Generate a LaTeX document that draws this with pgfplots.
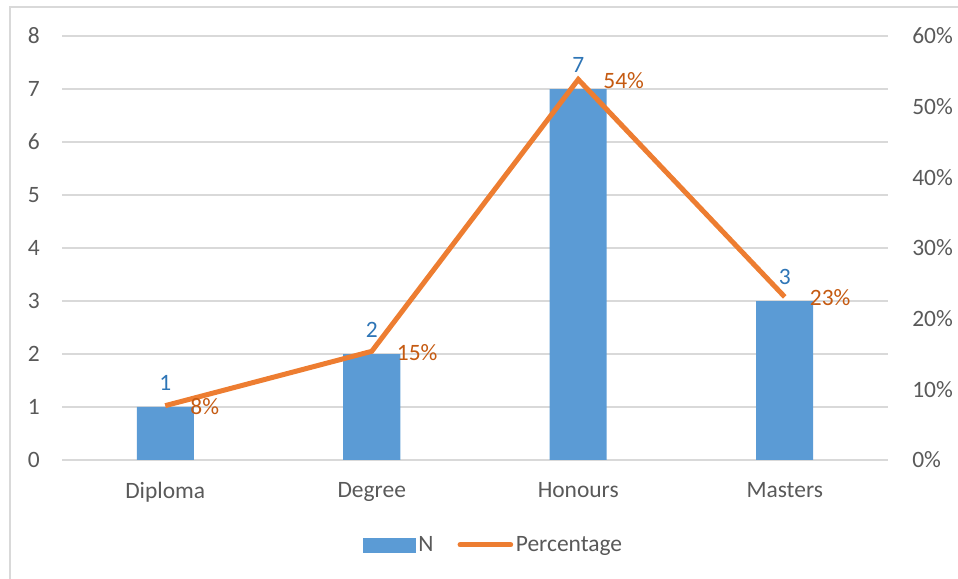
\documentclass[border=0pt]{standalone}
\usepackage{pgfplots}
\pgfplotsset{compat=1.18}
\usepackage{fontspec}
\setmainfont{Carlito}
\definecolor{barblue}{HTML}{5B9BD5}
\definecolor{lineorange}{HTML}{ED7D31}
\definecolor{txt}{HTML}{595959}
\definecolor{gridc}{HTML}{D9D9D9}
\definecolor{lblblue}{HTML}{2E75B6}
\definecolor{lblorange}{HTML}{C55A11}
\begin{document}
\begin{tikzpicture}
\path[use as bounding box] (0,0) rectangle (718.5pt,434.25pt);
\draw[gridc, line width=0.9pt] (7.5pt,0) -- (7.5pt,429pt) -- (718.5pt,429pt);
\pgfplotsset{common/.style={scale only axis, width=619.5pt, height=318pt,
  at={(46.5pt,89.25pt)}, anchor=south west, xmin=-0.5, xmax=3.5,
  axis line style={draw=none}, tick style={draw=none},
  font=\fontsize{17.6}{20}\selectfont, tick label style={text=txt},
  /pgf/number format/assume math mode=true}}
\begin{axis}[common, ymin=0, ymax=8, ytick={0,...,8},
  ymajorgrids, grid style={gridc, line width=0.9pt},
  xtick={0,1,2,3}, xticklabels={Diploma,Degree,Honours,Masters},
  yticklabel style={inner sep=0pt, anchor=east, xshift=-16.5pt},
  xticklabel style={inner sep=0pt, anchor=north, yshift=-16.5pt},
  axis y line*=left]
\addplot[ybar, bar width=42.75pt, fill=barblue, draw=none,
  nodes near coords, every node near coord/.style={inner sep=0pt, anchor=south, yshift=12pt, text=lblblue, font=\fontsize{17.6}{20}\selectfont}]
  coordinates {(0,1) (1,2) (2,7) (3,3)};
\end{axis}
\begin{axis}[common, ymin=0, ymax=60, ytick={0,10,...,60},
  axis y line*=right, axis x line=none,
  yticklabel={\pgfmathprintnumber{\tick}\%},
  yticklabel style={inner sep=0pt, anchor=west, xshift=18pt},
  legend columns=2,
  legend style={draw=none, fill=none, at={(0.523,-0.2)}, anchor=center,
    font=\fontsize{17.6}{20}\selectfont, text=txt,
    /tikz/every even column/.append style={column sep=16pt}}]
\addlegendimage{legend image code/.code={\fill[barblue] (0pt,-5.25pt) rectangle (39pt,5.25pt);}}
\addlegendentry{N}
\addplot[lineorange, line width=3.75pt, no markers,
  legend image code/.code={\draw[lineorange, line width=3.75pt, line cap=round] (2pt,0pt) -- (40pt,0pt);},
  point meta=explicit symbolic,
  nodes near coords, every node near coord/.style={inner sep=0pt, anchor=west, xshift=17pt, yshift=-0.75pt, text=lblorange, font=\fontsize{17.6}{20}\selectfont}]
  coordinates {(0,7.69)[8\%] (1,15.38)[15\%] (2,53.85)[54\%] (3,23.08)[23\%]};
\addlegendentry{Percentage}
\end{axis}
\end{tikzpicture}
\end{document}
